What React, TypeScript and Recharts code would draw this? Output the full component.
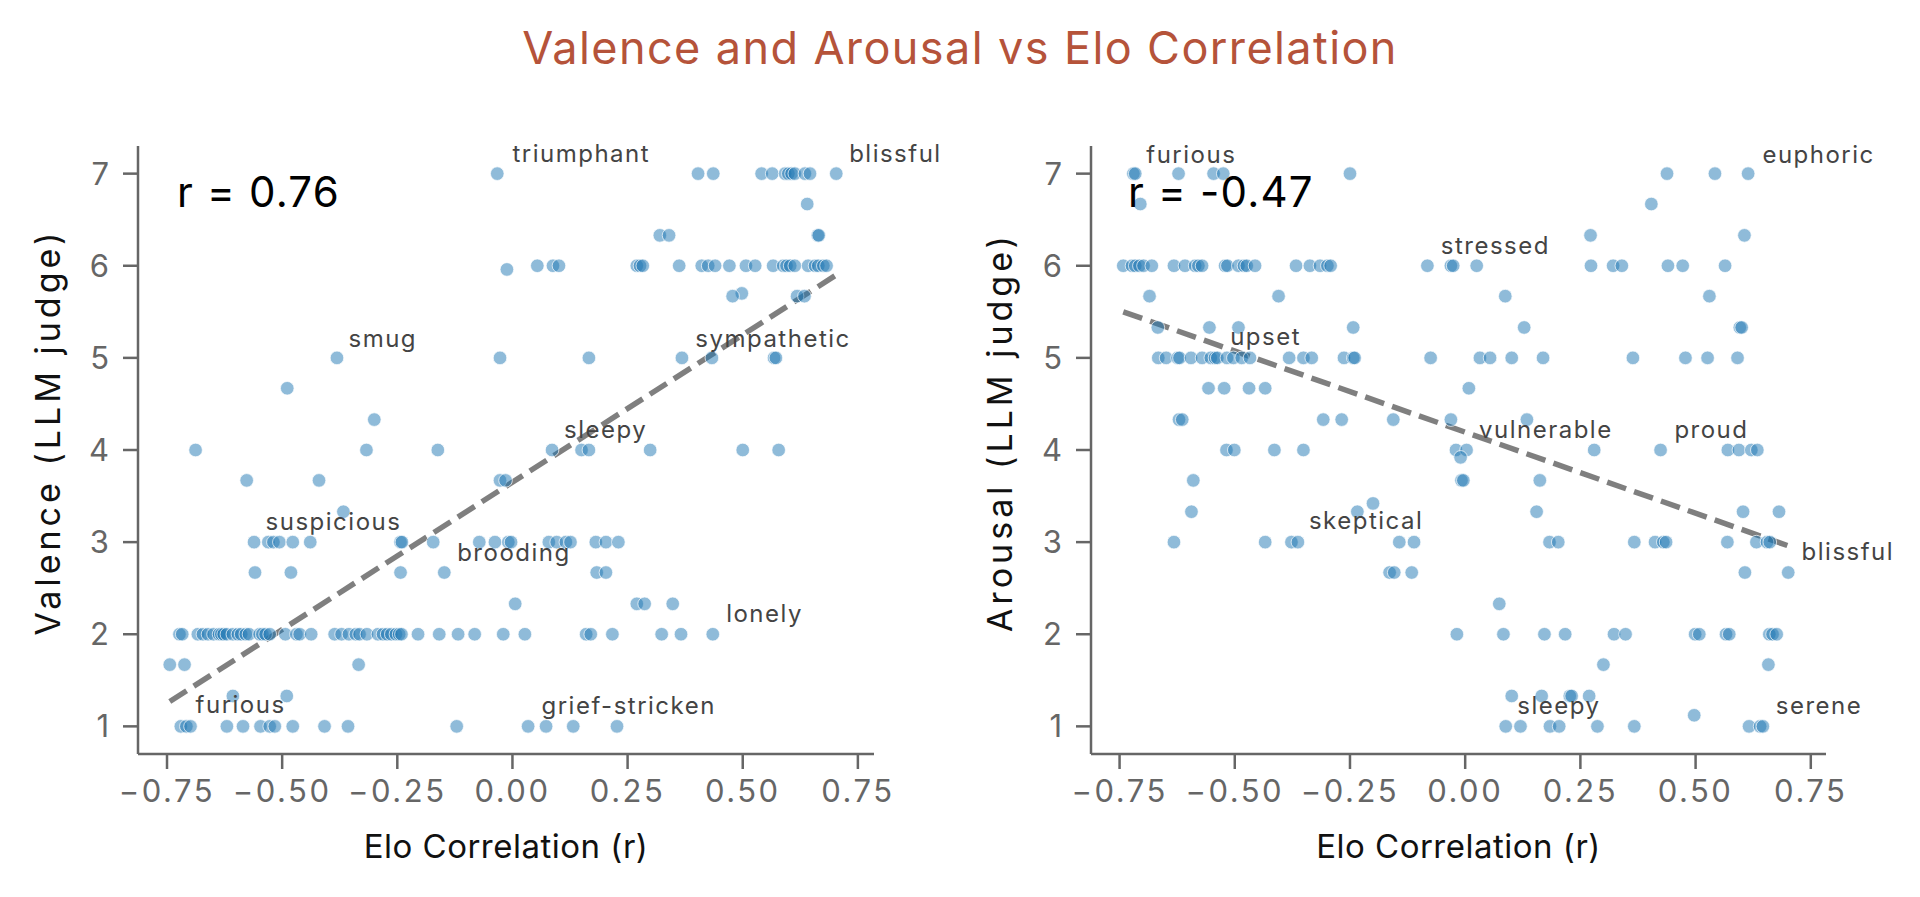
import {
  ScatterChart,
  Scatter,
  XAxis,
  YAxis,
  ReferenceLine,
  ReferenceDot,
  Label,
} from "recharts";

const FONT = "Inter, 'DejaVu Sans', sans-serif";

const X_TICKS = [-0.75, -0.5, -0.25, 0, 0.25, 0.5, 0.75];
const Y_TICKS = [1, 2, 3, 4, 5, 6, 7];

// [judge score, elo correlations of the emotions at that score]
const VALENCE_ROWS: [number, number[]][] = [
  [7, [-0.033, 0.403, 0.436, 0.541, 0.564, 0.592, 0.599, 0.606, 0.613, 0.635, 0.646, 0.703]],
  [6.67, [0.64]],
  [6.33, [0.32, 0.34, 0.663, 0.665]],
  [6, [0.054, 0.088, 0.101, 0.27, 0.277, 0.283, 0.362, 0.411, 0.425, 0.44, 0.471, 0.507, 0.527, 0.566, 0.588, 0.595, 0.603, 0.613, 0.642, 0.657, 0.664, 0.675, 0.682]],
  [5.96, [-0.012]],
  [5.7, [0.498]],
  [5.67, [0.478, 0.618, 0.634]],
  [5, [-0.381, -0.027, 0.166, 0.368, 0.433, 0.568, 0.572]],
  [4.67, [-0.489]],
  [4.33, [-0.3]],
  [4, [-0.688, -0.317, -0.162, 0.086, 0.15, 0.166, 0.299, 0.5, 0.578]],
  [3.67, [-0.577, -0.42, -0.027, -0.015]],
  [3.33, [-0.367]],
  [3, [-0.561, -0.53, -0.519, -0.506, -0.477, -0.439, -0.243, -0.24, -0.172, -0.072, -0.038, -0.009, -0.003, 0.079, 0.096, 0.116, 0.126, 0.181, 0.203, 0.23]],
  [2.67, [-0.559, -0.481, -0.243, -0.148, 0.183, 0.203]],
  [2.33, [0.006, 0.27, 0.287, 0.348]],
  [2, [-0.723, -0.717, -0.683, -0.672, -0.661, -0.649, -0.637, -0.632, -0.627, -0.62, -0.607, -0.596, -0.589, -0.579, -0.572, -0.549, -0.543, -0.536, -0.527, -0.493, -0.469, -0.462, -0.437, -0.386, -0.371, -0.355, -0.34, -0.332, -0.316, -0.292, -0.281, -0.272, -0.263, -0.253, -0.246, -0.241, -0.205, -0.159, -0.118, -0.082, -0.02, 0.027, 0.16, 0.17, 0.217, 0.324, 0.366, 0.435]],
  [1.67, [-0.744, -0.712, -0.334]],
  [1.33, [-0.607, -0.49]],
  [1, [-0.72, -0.708, -0.699, -0.62, -0.585, -0.547, -0.527, -0.516, -0.477, -0.408, -0.357, -0.121, 0.034, 0.073, 0.132, 0.227]],
];

const AROUSAL_ROWS: [number, number[]][] = [
  [7, [-0.72, -0.716, -0.622, -0.546, -0.525, -0.25, 0.438, 0.542, 0.614]],
  [6.67, [-0.705, 0.404]],
  [6.33, [0.272, 0.606]],
  [6, [-0.742, -0.723, -0.716, -0.707, -0.698, -0.68, -0.632, -0.608, -0.586, -0.579, -0.571, -0.521, -0.516, -0.492, -0.48, -0.474, -0.456, -0.367, -0.337, -0.315, -0.299, -0.292, -0.082, -0.031, -0.026, 0.025, 0.273, 0.321, 0.34, 0.44, 0.472, 0.564]],
  [5.67, [-0.685, -0.405, 0.087, 0.53]],
  [5.33, [-0.667, -0.555, -0.492, -0.243, 0.128, 0.596, 0.6]],
  [5, [-0.666, -0.649, -0.624, -0.62, -0.595, -0.571, -0.552, -0.543, -0.538, -0.517, -0.503, -0.485, -0.467, -0.382, -0.351, -0.333, -0.263, -0.243, -0.24, -0.075, 0.032, 0.054, 0.101, 0.169, 0.364, 0.478, 0.526, 0.591]],
  [4.67, [-0.557, -0.523, -0.469, -0.434, 0.008]],
  [4.33, [-0.621, -0.614, -0.308, -0.268, -0.156, -0.031, 0.134]],
  [4, [-0.518, -0.501, -0.414, -0.351, -0.02, 0.003, 0.28, 0.424, 0.57, 0.594, 0.621, 0.634]],
  [3.92, [-0.01]],
  [3.67, [-0.59, -0.008, -0.004, 0.162]],
  [3.42, [-0.2]],
  [3.33, [-0.594, -0.234, 0.155, 0.603, 0.681]],
  [3, [-0.632, -0.434, -0.377, -0.363, -0.143, -0.111, 0.183, 0.202, 0.367, 0.412, 0.43, 0.436, 0.569, 0.632, 0.655, 0.661]],
  [2.67, [-0.164, -0.154, -0.116, 0.607, 0.701]],
  [2.33, [0.074]],
  [2, [-0.018, 0.083, 0.172, 0.217, 0.323, 0.348, 0.499, 0.508, 0.566, 0.573, 0.66, 0.667, 0.676]],
  [1.67, [0.3, 0.658]],
  [1.33, [0.101, 0.166, 0.227, 0.231, 0.269]],
  [1.12, [0.497]],
  [1, [0.088, 0.12, 0.184, 0.204, 0.287, 0.367, 0.616, 0.64, 0.646]],
];

// emotion names written next to their points: [text, x, y]
const VALENCE_NOTES: [string, number, number][] = [
  ["triumphant", 0.0, 7.22],
  ["blissful", 0.731, 7.22],
  ["smug", -0.356, 5.21],
  ["sympathetic", 0.397, 5.21],
  ["sleepy", 0.112, 4.22],
  ["suspicious", -0.536, 3.22],
  ["brooding", -0.12, 2.89],
  ["lonely", 0.464, 2.23],
  ["furious", -0.688, 1.24],
  ["grief-stricken", 0.063, 1.23],
];

const AROUSAL_NOTES: [string, number, number][] = [
  ["furious", -0.692, 7.21],
  ["euphoric", 0.645, 7.21],
  ["stressed", -0.053, 6.22],
  ["upset", -0.51, 5.23],
  ["vulnerable", 0.03, 4.22],
  ["proud", 0.454, 4.22],
  ["skeptical", -0.339, 3.23],
  ["blissful", 0.73, 2.9],
  ["sleepy", 0.113, 1.23],
  ["serene", 0.674, 1.23],
];

// fitted line end points
const VALENCE_FIT = [
  { x: -0.744, y: 1.27 },
  { x: 0.703, y: 5.9 },
];
const AROUSAL_FIT = [
  { x: -0.742, y: 5.5 },
  { x: 0.701, y: 2.96 },
];

const fmtX = (v: number) =>
  (v < 0 ? "\u2212" : "") + Math.abs(v).toFixed(2);

const Dot = (props: any) => (
  <circle
    cx={props.cx}
    cy={props.cy}
    r={6.8}
    fill="#1f77b4"
    fillOpacity={0.5}
    stroke="#ffffff"
    strokeOpacity={0.7}
    strokeWidth={1}
  />
);

type PanelProps = {
  rows: [number, number[]][];
  notes: [string, number, number][];
  fit: { x: number; y: number }[];
  xDomain: [number, number];
  yLabel: string;
  yAxisWidth: number;
  yLabelOffset: number;
  right: number;
};

function Panel({
  rows,
  notes,
  fit,
  xDomain,
  yLabel,
  yAxisWidth,
  yLabelOffset,
  right,
}: PanelProps) {
  const points = rows.flatMap(([y, xs]) => xs.map((x) => ({ x, y })));

  return (
    <ScatterChart
      width={960}
      height={897}
      margin={{ top: 146, right, bottom: 0, left: 0 }}
      style={{ fontFamily: FONT }}
    >
      <XAxis
        type="number"
        dataKey="x"
        domain={xDomain}
        allowDataOverflow
        ticks={X_TICKS}
        interval={0}
        tickFormatter={fmtX}
        height={143}
        axisLine={{ stroke: "#666", strokeWidth: 2.5 }}
        tickLine={{ stroke: "#666", strokeWidth: 2.5 }}
        tickSize={15}
        tickMargin={11}
        tick={{ fill: "#666", fontSize: 31, fontFamily: FONT, letterSpacing: 2.5 }}
      >
        <Label
          value="Elo Correlation (r)"
          position="insideBottom"
          offset={39}
          fill="#111"
          fontSize={33}
          fontFamily={FONT}
          style={{ letterSpacing: 0.5 }}
        />
      </XAxis>
      <YAxis
        type="number"
        dataKey="y"
        domain={[0.7, 7.3]}
        allowDataOverflow
        ticks={Y_TICKS}
        interval={0}
        width={yAxisWidth}
        axisLine={{ stroke: "#666", strokeWidth: 2.5 }}
        tickLine={{ stroke: "#666", strokeWidth: 2.5 }}
        tickSize={15}
        tickMargin={14}
        tick={{ fill: "#666", fontSize: 31, fontFamily: FONT }}
      >
        <Label
          value={yLabel}
          angle={-90}
          position="insideLeft"
          offset={yLabelOffset}
          dy={-18}
          fill="#111"
          fontSize={34}
          fontFamily={FONT}
          style={{ textAnchor: "middle", letterSpacing: 4 }}
        />
      </YAxis>

      <Scatter data={points} shape={Dot} isAnimationActive={false} />

      <ReferenceLine
        segment={fit}
        stroke="#000"
        strokeOpacity={0.5}
        strokeWidth={5.5}
        strokeDasharray="20 8.5"
        ifOverflow="visible"
      />

      {notes.map(([text, x, y]) => (
        <ReferenceDot
          key={text}
          x={x}
          y={y}
          r={0}
          fill="none"
          stroke="none"
          ifOverflow="visible"
          label={{
            value: text,
            position: "right",
            offset: 0,
            fill: "#444",
            fontSize: 24,
            fontFamily: FONT,
            style: { letterSpacing: 1.5 },
          }}
        />
      ))}
    </ScatterChart>
  );
}

export default function App() {
  return (
    <div
      style={{
        position: "absolute",
        left: 0,
        top: 0,
        width: 1920,
        height: 897,
        background: "#fff",
      }}
    >
      <div style={{ position: "absolute", left: 0, top: 0 }}>
        <Panel
          rows={VALENCE_ROWS}
          notes={VALENCE_NOTES}
          fit={VALENCE_FIT}
          xDomain={[-0.813, 0.785]}
          yLabel="Valence (LLM judge)"
          yAxisWidth={138}
          yLabelOffset={48}
          right={86}
        />
      </div>
      <div style={{ position: "absolute", left: 960, top: 0 }}>
        <Panel
          rows={AROUSAL_ROWS}
          notes={AROUSAL_NOTES}
          fit={AROUSAL_FIT}
          xDomain={[-0.812, 0.783]}
          yLabel="Arousal (LLM judge)"
          yAxisWidth={131}
          yLabelOffset={40}
          right={94}
        />
      </div>
      <svg
        width={1920}
        height={897}
        style={{ position: "absolute", left: 0, top: 0, pointerEvents: "none" }}
      >
        <text
          x={960}
          y={64}
          textAnchor="middle"
          fill="#b5533a"
          fontSize={45}
          fontFamily={FONT}
          style={{ letterSpacing: 1.4 }}
        >
          Valence and Arousal vs Elo Correlation
        </text>
        <text
          x={177}
          y={207}
          fill="#000"
          fontSize={42}
          fontFamily={FONT}
          style={{ letterSpacing: 1.2 }}
        >
          r = 0.76
        </text>
        <text
          x={1128}
          y={207}
          fill="#000"
          fontSize={42}
          fontFamily={FONT}
          style={{ letterSpacing: 1.2 }}
        >
          r = -0.47
        </text>
      </svg>
    </div>
  );
}
